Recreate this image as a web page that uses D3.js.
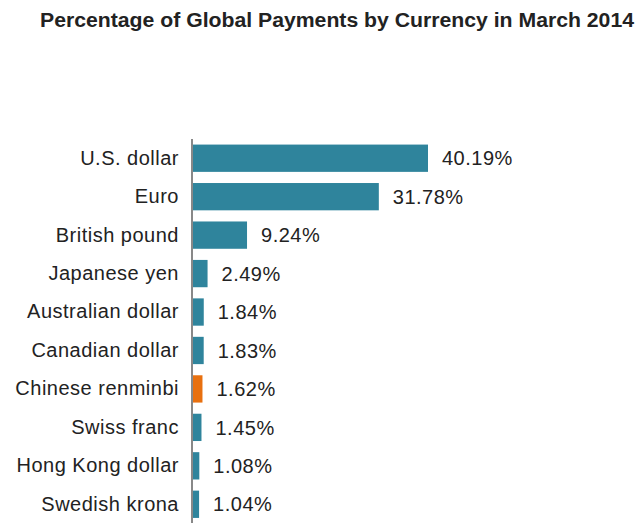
<!DOCTYPE html>
<html><head><meta charset="utf-8">
<script src="https://cdn.jsdelivr.net/npm/d3@7"></script>
<style>body{margin:0;background:#fff;font-family:"Liberation Sans",Arial,sans-serif}</style>
</head><body>
<svg id="c" width="636" height="523"></svg>
<script>
const categories = ["U.S. dollar","Euro","British pound","Japanese yen","Australian dollar","Canadian dollar","Chinese renminbi","Swiss franc","Hong Kong dollar","Swedish krona"];
const values = [40.19,31.78,9.24,2.49,1.84,1.83,1.62,1.45,1.08,1.04];
const highlight = ["Chinese renminbi"];
const title = "Percentage of Global Payments by Currency in March 2014";

(function(){
const svg = d3.select("#c");
const left = 193, topY = 139;
const x = d3.scaleLinear().domain([0, 40.19]).range([0, 235]);
const y = d3.scaleBand().domain(categories).range([topY, topY + 38.45*10]).paddingInner(0.29).paddingOuter(0.145);

svg.append("text").attr("x", 337).attr("y", 27).attr("text-anchor","middle")
  .attr("font-size", 20).attr("font-weight","bold").attr("fill","#222")
  .attr("textLength", 594).attr("lengthAdjust","spacingAndGlyphs").text(title);

const g = svg.append("g").attr("transform", `translate(${left},0)`);
g.selectAll("rect").data(categories).join("rect")
  .attr("x", 0).attr("y", d => y(d)).attr("height", y.bandwidth())
  .attr("width", (d,i) => x(values[i]))
  .attr("fill", d => highlight.includes(d) ? "#e8700f" : "#2f849c");

g.selectAll("text.v").data(categories).join("text").attr("class","v")
  .attr("x", (d,i) => x(values[i]) + 14).attr("y", d => y(d) + y.bandwidth()/2)
  .attr("dy","0.36em").attr("font-size",20).attr("letter-spacing",0.5).attr("fill","#222")
  .text((d,i) => values[i].toFixed(2) + "%");

const yAxis = d3.axisLeft(y).tickSize(0).tickPadding(13);
const ax = svg.append("g").attr("transform", `translate(${left-1},0)`).call(yAxis);
ax.select(".domain").remove();
ax.selectAll("text").attr("font-size",20).attr("letter-spacing",0.5).attr("fill","#222").attr("font-family","Liberation Sans, Arial, sans-serif");
svg.append("line").attr("x1", left-1).attr("x2", left-1).attr("y1", 139).attr("y2", 523)
  .attr("stroke","#888").attr("stroke-width",2);
})();
</script>
</body></html>
